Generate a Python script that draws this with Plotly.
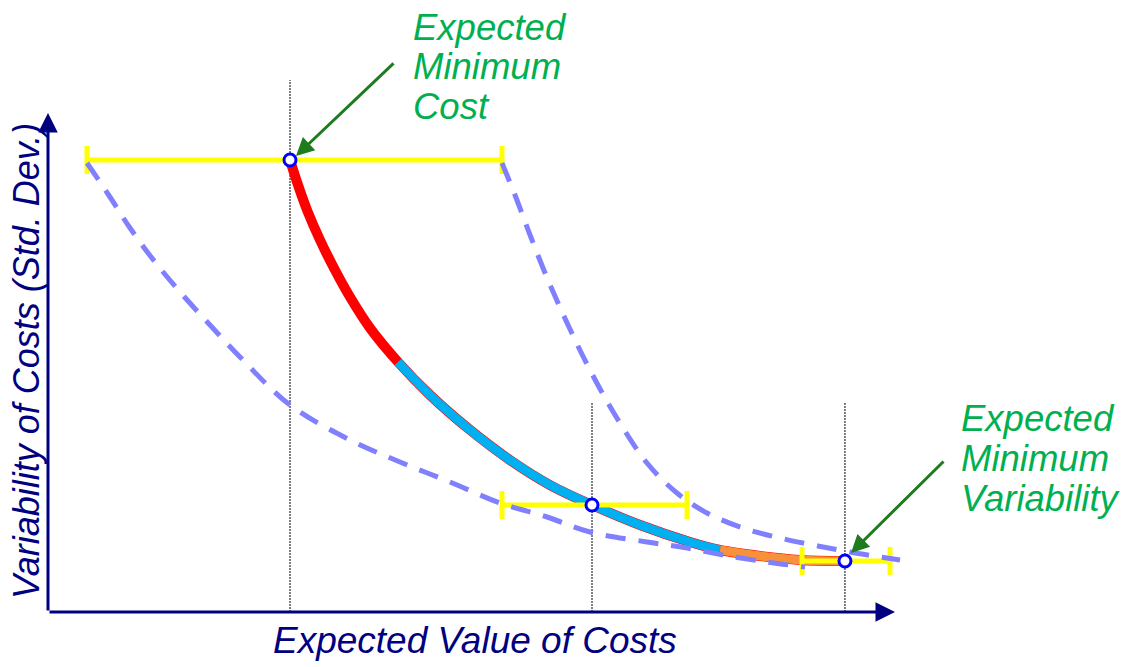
import plotly.graph_objects as go

# ---- data (abstract cost units) ----
# efficient frontier (solid curve)
curve_x = [2.847, 2.941, 3.047, 3.200, 3.376, 3.553, 3.788, 4.118, 4.494, 4.965,
           5.435, 5.906, 6.400, 6.965, 7.553, 7.906, 8.376, 8.847, 9.376]
curve_y = [8.863, 8.373, 7.882, 7.294, 6.706, 6.176, 5.569, 4.902, 4.255, 3.569,
           2.980, 2.490, 2.098, 1.706, 1.373, 1.216, 1.098, 1.020, 1.000]
red_end = 7      # index where red ends / cyan starts
cyan_end = 15    # index where cyan ends / orange starts

# lower dashed bound
lower_x = [0.459, 0.729, 0.965, 1.259, 1.553, 1.906, 2.259, 2.847, 3.553, 4.141,
           4.729, 5.318, 5.871, 6.376, 7.047, 7.518, 7.941, 8.459, 8.906]
lower_y = [8.804, 8.137, 7.529, 6.863, 6.275, 5.627, 5.000, 4.059, 3.373, 2.941,
           2.549, 2.137, 1.863, 1.569, 1.373, 1.255, 1.118, 0.980, 0.882]

# upper dashed bound
upper_x = [5.341, 5.494, 5.671, 5.882, 6.118, 6.376, 6.671, 7.047, 7.400, 7.753,
           8.176, 8.612, 9.000, 9.435, 10.024]
upper_y = [8.804, 8.176, 7.392, 6.510, 5.627, 4.745, 3.863, 2.922, 2.333, 1.941,
           1.647, 1.451, 1.314, 1.176, 1.020]

# highlighted points and their ranges
pt_x = [2.847, 6.400, 9.376]
pt_y = [8.863, 2.098, 1.000]
bar_left = [0.459, 5.341, 8.871]
bar_right = [5.341, 7.518, 9.906]
guide_top = [10.43, 4.098, 4.098]

# ---- layout helpers (pixel geometry) ----
L, T, W, H = 48, 71, 892, 541
PXU_X, PXU_Y = 85.0, 51.0


def dx(xpix):  # screen pixel -> data x
    return (xpix - L) / PXU_X


def dy(ypix):  # screen pixel -> data y
    return (T + H - ypix) / PXU_Y


def px(xpix):  # screen pixel -> paper x
    return (xpix - L) / W


def py(ypix):  # screen pixel -> paper y
    return (T + H - ypix) / H


NAVY = "#000080"
GREEN_TXT = "#00B050"
GREEN_ARR = "#1E7B1E"
FONT = "Liberation Sans, Arial, sans-serif"

fig = go.Figure()

# vertical dotted guides
for x, top in zip(pt_x, guide_top):
    fig.add_trace(go.Scatter(x=[x, x], y=[0, top], mode="lines",
                             line=dict(color="black", width=1, dash="2px,1px"),
                             hoverinfo="skip"))

# solid frontier: red base, cyan and orange overlays
fig.add_trace(go.Scatter(x=curve_x, y=curve_y, mode="lines",
                         line=dict(color="#FF0000", width=10, shape="spline"),
                         hoverinfo="skip"))
fig.add_trace(go.Scatter(x=curve_x[red_end:cyan_end + 1], y=curve_y[red_end:cyan_end + 1],
                         mode="lines",
                         line=dict(color="#00B0F0", width=9, shape="spline"),
                         hoverinfo="skip"))
fig.add_trace(go.Scatter(x=curve_x[cyan_end:], y=curve_y[cyan_end:], mode="lines",
                         line=dict(color="#F7923A", width=9, shape="spline"),
                         hoverinfo="skip"))

# yellow range bars
fig.add_trace(go.Scatter(
    x=pt_x, y=pt_y, mode="markers",
    marker=dict(size=1, color="rgba(0,0,0,0)"),
    error_x=dict(type="data", symmetric=False,
                 array=[r - x for r, x in zip(bar_right, pt_x)],
                 arrayminus=[x - l for l, x in zip(bar_left, pt_x)],
                 color="#FFFF00", thickness=5, width=14),
    hoverinfo="skip"))

# dashed bounds
for xs, ys in ((lower_x, lower_y), (upper_x, upper_y)):
    fig.add_trace(go.Scatter(x=xs, y=ys, mode="lines",
                             line=dict(color="#8080FF", width=5, dash="20px,13px",
                                       shape="spline"),
                             hoverinfo="skip"))

# point markers
fig.add_trace(go.Scatter(x=pt_x, y=pt_y, mode="markers",
                         marker=dict(size=12, color="white",
                                     line=dict(color="#0000FF", width=3)),
                         hoverinfo="skip"))

annotations = []
# axis arrows
annotations.append(dict(x=dx(895), y=0, ax=0, ay=0, xref="x", yref="y",
                        axref="x", ayref="y", text="", showarrow=True,
                        arrowhead=2, arrowsize=1.3, arrowwidth=3, arrowcolor=NAVY))
annotations.append(dict(x=0, y=dy(113), ax=0, ay=0, xref="x", yref="y",
                        axref="x", ayref="y", text="", showarrow=True,
                        arrowhead=2, arrowsize=1.3, arrowwidth=3, arrowcolor=NAVY))
# green pointers
annotations.append(dict(x=dx(296), y=dy(156), ax=dx(395), ay=dy(62),
                        xref="x", yref="y", axref="x", ayref="y", text="",
                        showarrow=True, arrowhead=2, arrowsize=1.2, arrowwidth=3,
                        arrowcolor=GREEN_ARR))
annotations.append(dict(x=dx(851), y=dy(553), ax=dx(945), ay=dy(460),
                        xref="x", yref="y", axref="x", ayref="y", text="",
                        showarrow=True, arrowhead=2, arrowsize=1.2, arrowwidth=3,
                        arrowcolor=GREEN_ARR))

# green labels
for txt, xp, yp in (("Expected", 411, 27), ("Minimum", 411, 67), ("Cost", 411, 107),
                    ("Expected", 959, 418), ("Minimum", 959, 458), ("Variability", 959, 498)):
    annotations.append(dict(x=px(xp), y=py(yp), xref="paper", yref="paper",
                            xanchor="left", yanchor="middle", text=txt, showarrow=False,
                            font=dict(family=FONT, size=36.5, color=GREEN_TXT, style="italic")))

# axis titles
annotations.append(dict(x=px(475), y=py(640), xref="paper", yref="paper",
                        xanchor="center", yanchor="middle", showarrow=False,
                        text="Expected Value of Costs",
                        font=dict(family=FONT, size=37, color=NAVY, style="italic")))
annotations.append(dict(x=px(26), y=py(361), xref="paper", yref="paper",
                        xanchor="center", yanchor="middle", showarrow=False,
                        textangle=-90, text="Variability of Costs (Std. Dev.)",
                        font=dict(family=FONT, size=36, color=NAVY, style="italic")))

fig.update_layout(
    width=1129, height=667,
    margin=dict(l=L, r=1129 - L - W, t=T, b=667 - T - H),
    paper_bgcolor="white", plot_bgcolor="white",
    showlegend=False,
    xaxis=dict(range=[0, W / PXU_X], visible=False, fixedrange=True),
    yaxis=dict(range=[0, H / PXU_Y], visible=False, fixedrange=True),
    annotations=annotations,
)

fig.write_html("out.html", config={"displayModeBar": False},
               post_script="document.body.style.margin='0';document.body.style.padding='0';")
